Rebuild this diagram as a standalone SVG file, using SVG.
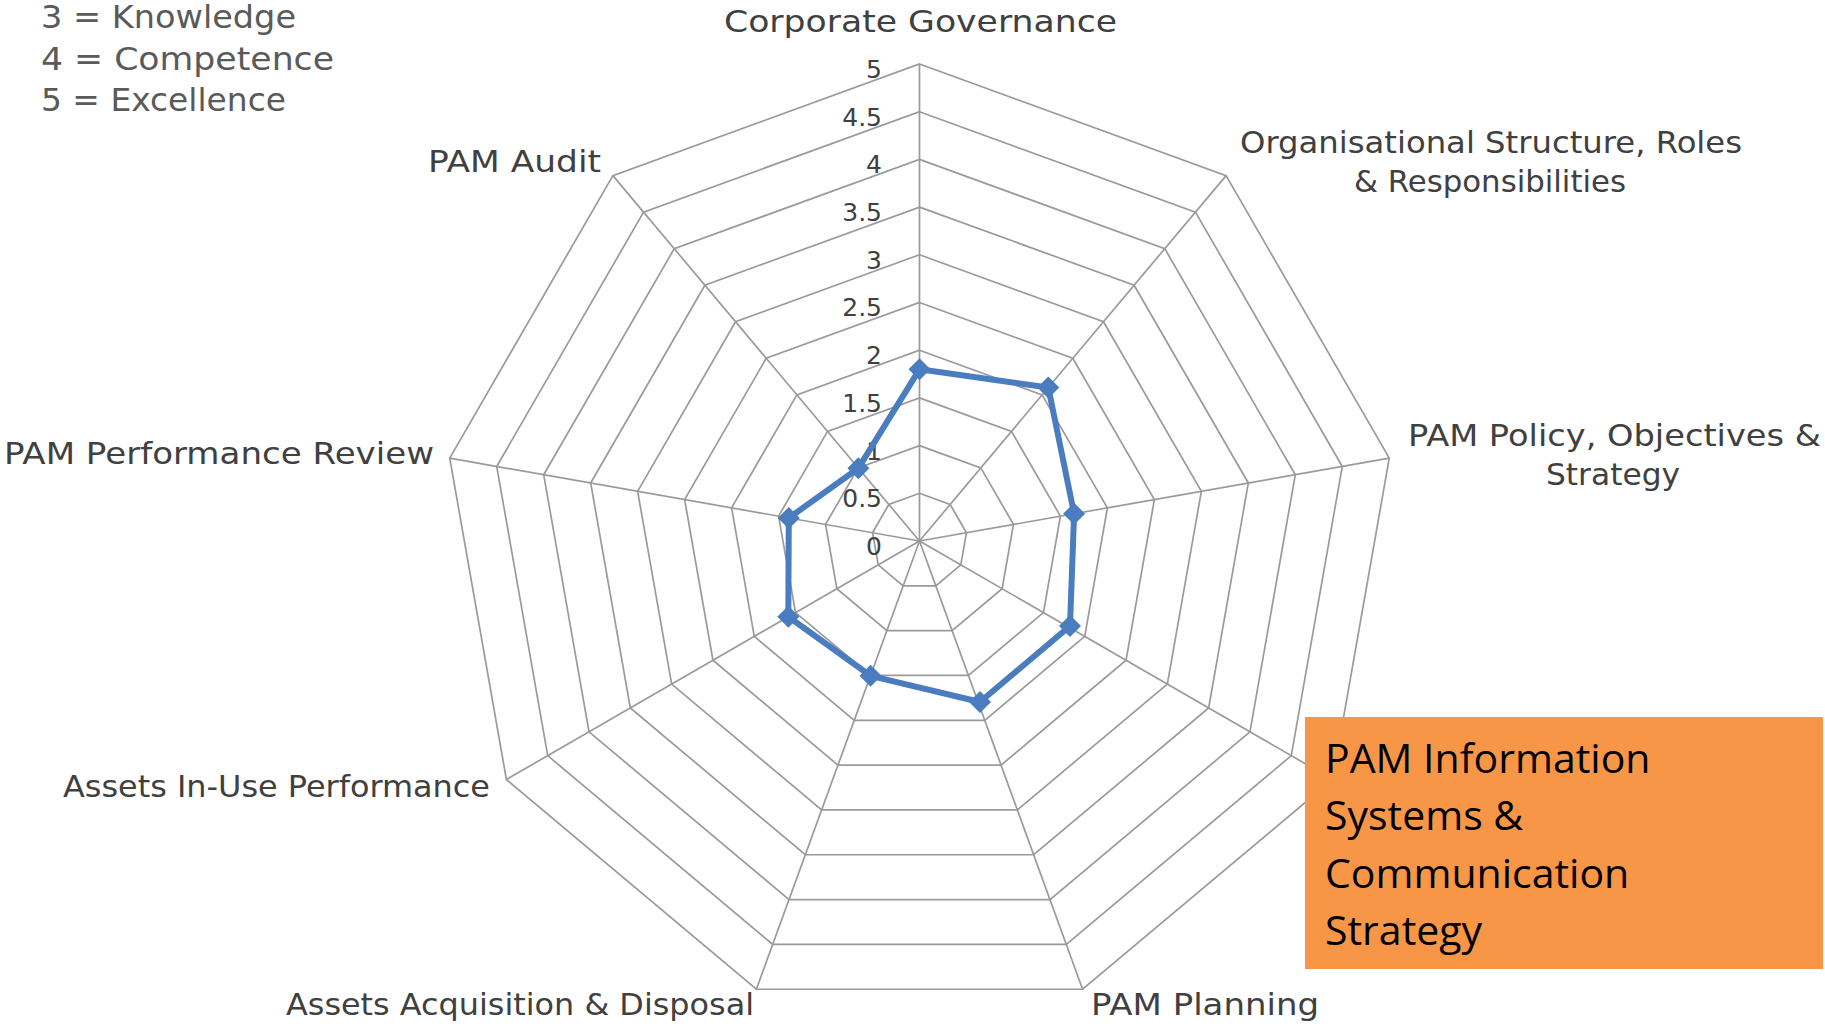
<svg xmlns="http://www.w3.org/2000/svg" width="1825" height="1030" viewBox="0 0 1825 1030">
  <style>
    .ring { fill: none; stroke: #9a9a9a; stroke-width: 1.7; }
    .spoke { stroke: #9a9a9a; stroke-width: 1.7; }
    .lbl { font-family: "DejaVu Sans", "Liberation Sans", sans-serif; font-size: 31px; fill: #404040; }
    .leg { font-family: "DejaVu Sans", "Liberation Sans", sans-serif; font-size: 32px; fill: #5a5a5a; }
    .num { font-family: "DejaVu Sans", "Liberation Sans", sans-serif; font-size: 25px; fill: #404040; text-anchor: end; }
    .series { fill: none; stroke: #4a7dc0; stroke-width: 6; stroke-linejoin: round; }
    .mk { fill: #4a7dc0; }
    .box { fill: #f79646; }
    .boxtxt { font-family: "Open Sans", "Liberation Sans", sans-serif; font-size: 41px; fill: #000000; }
  </style>
  <defs>
    <path id="diamond" d="M0,-11 L11,0 L0,11 L-11,0 Z"/>
  </defs>
  <rect width="1825" height="1030" fill="#ffffff"/>

  <g id="legend">
    <text class="leg" x="41" y="28" textLength="255" lengthAdjust="spacingAndGlyphs">3 = Knowledge</text>
    <text class="leg" x="41" y="70" textLength="293" lengthAdjust="spacingAndGlyphs">4 = Competence</text>
    <text class="leg" x="41" y="111" textLength="245" lengthAdjust="spacingAndGlyphs">5 = Excellence</text>
  </g>

  <g id="grid">
    <polygon class="ring" vector-effect="non-scaling-stroke" transform="translate(919.5 541) scale(47.7)" points="0,-1 0.642788,-0.766044 0.984808,-0.173648 0.866025,0.5 0.342020,0.939693 -0.342020,0.939693 -0.866025,0.5 -0.984808,-0.173648 -0.642788,-0.766044"/>
    <polygon class="ring" vector-effect="non-scaling-stroke" transform="translate(919.5 541) scale(95.4)" points="0,-1 0.642788,-0.766044 0.984808,-0.173648 0.866025,0.5 0.342020,0.939693 -0.342020,0.939693 -0.866025,0.5 -0.984808,-0.173648 -0.642788,-0.766044"/>
    <polygon class="ring" vector-effect="non-scaling-stroke" transform="translate(919.5 541) scale(143.1)" points="0,-1 0.642788,-0.766044 0.984808,-0.173648 0.866025,0.5 0.342020,0.939693 -0.342020,0.939693 -0.866025,0.5 -0.984808,-0.173648 -0.642788,-0.766044"/>
    <polygon class="ring" vector-effect="non-scaling-stroke" transform="translate(919.5 541) scale(190.8)" points="0,-1 0.642788,-0.766044 0.984808,-0.173648 0.866025,0.5 0.342020,0.939693 -0.342020,0.939693 -0.866025,0.5 -0.984808,-0.173648 -0.642788,-0.766044"/>
    <polygon class="ring" vector-effect="non-scaling-stroke" transform="translate(919.5 541) scale(238.5)" points="0,-1 0.642788,-0.766044 0.984808,-0.173648 0.866025,0.5 0.342020,0.939693 -0.342020,0.939693 -0.866025,0.5 -0.984808,-0.173648 -0.642788,-0.766044"/>
    <polygon class="ring" vector-effect="non-scaling-stroke" transform="translate(919.5 541) scale(286.2)" points="0,-1 0.642788,-0.766044 0.984808,-0.173648 0.866025,0.5 0.342020,0.939693 -0.342020,0.939693 -0.866025,0.5 -0.984808,-0.173648 -0.642788,-0.766044"/>
    <polygon class="ring" vector-effect="non-scaling-stroke" transform="translate(919.5 541) scale(333.9)" points="0,-1 0.642788,-0.766044 0.984808,-0.173648 0.866025,0.5 0.342020,0.939693 -0.342020,0.939693 -0.866025,0.5 -0.984808,-0.173648 -0.642788,-0.766044"/>
    <polygon class="ring" vector-effect="non-scaling-stroke" transform="translate(919.5 541) scale(381.6)" points="0,-1 0.642788,-0.766044 0.984808,-0.173648 0.866025,0.5 0.342020,0.939693 -0.342020,0.939693 -0.866025,0.5 -0.984808,-0.173648 -0.642788,-0.766044"/>
    <polygon class="ring" vector-effect="non-scaling-stroke" transform="translate(919.5 541) scale(429.3)" points="0,-1 0.642788,-0.766044 0.984808,-0.173648 0.866025,0.5 0.342020,0.939693 -0.342020,0.939693 -0.866025,0.5 -0.984808,-0.173648 -0.642788,-0.766044"/>
    <polygon class="ring" vector-effect="non-scaling-stroke" transform="translate(919.5 541) scale(477)" points="0,-1 0.642788,-0.766044 0.984808,-0.173648 0.866025,0.5 0.342020,0.939693 -0.342020,0.939693 -0.866025,0.5 -0.984808,-0.173648 -0.642788,-0.766044"/>
  </g>

  <g id="connectors">
    <line class="spoke" x1="919.5" y1="541" x2="919.5" y2="64"/>
    <line class="spoke" x1="919.5" y1="541" x2="1226.1" y2="175.6"/>
    <line class="spoke" x1="919.5" y1="541" x2="1389.3" y2="458.2"/>
    <line class="spoke" x1="919.5" y1="541" x2="1332.6" y2="779.5"/>
    <line class="spoke" x1="919.5" y1="541" x2="1082.6" y2="989.2"/>
    <line class="spoke" x1="919.5" y1="541" x2="756.4" y2="989.2"/>
    <line class="spoke" x1="919.5" y1="541" x2="506.4" y2="779.5"/>
    <line class="spoke" x1="919.5" y1="541" x2="449.7" y2="458.2"/>
    <line class="spoke" x1="919.5" y1="541" x2="612.9" y2="175.6"/>
  </g>

  <g id="scale-labels">
    <text class="num" x="882" y="78">5</text>
    <text class="num" x="882" y="126">4.5</text>
    <text class="num" x="882" y="173">4</text>
    <text class="num" x="882" y="221">3.5</text>
    <text class="num" x="882" y="269">3</text>
    <text class="num" x="882" y="316">2.5</text>
    <text class="num" x="882" y="364">2</text>
    <text class="num" x="882" y="412">1.5</text>
    <text class="num" x="882" y="460">1</text>
    <text class="num" x="882" y="507">0.5</text>
    <text class="num" x="882" y="555">0</text>
  </g>

  <g id="node-corporate-governance">
    <text class="lbl" x="724" y="32" textLength="393" lengthAdjust="spacingAndGlyphs">Corporate Governance</text>
  </g>
  <g id="node-organisational-structure">
    <text class="lbl" x="1240" y="153" textLength="502" lengthAdjust="spacingAndGlyphs">Organisational Structure, Roles</text>
    <text class="lbl" x="1354" y="192" textLength="272" lengthAdjust="spacingAndGlyphs">&amp; Responsibilities</text>
  </g>
  <g id="node-pam-policy">
    <text class="lbl" x="1408" y="446" textLength="413" lengthAdjust="spacingAndGlyphs">PAM Policy, Objectives &amp;</text>
    <text class="lbl" x="1546" y="485" textLength="134" lengthAdjust="spacingAndGlyphs">Strategy</text>
  </g>
  <g id="node-pam-planning">
    <text class="lbl" x="1091" y="1015" textLength="228" lengthAdjust="spacingAndGlyphs">PAM Planning</text>
  </g>
  <g id="node-assets-acquisition">
    <text class="lbl" x="286" y="1015" textLength="468" lengthAdjust="spacingAndGlyphs">Assets Acquisition &amp; Disposal</text>
  </g>
  <g id="node-assets-in-use">
    <text class="lbl" x="63" y="797" textLength="427" lengthAdjust="spacingAndGlyphs">Assets In-Use Performance</text>
  </g>
  <g id="node-pam-performance-review">
    <text class="lbl" x="4" y="464" textLength="430" lengthAdjust="spacingAndGlyphs">PAM Performance Review</text>
  </g>
  <g id="node-pam-audit">
    <text class="lbl" x="428" y="172" textLength="173" lengthAdjust="spacingAndGlyphs">PAM Audit</text>
  </g>

  <g id="series">
    <polygon class="series" points="919.5,369.3 1048.3,387.5 1074.1,513.7 1070,626 980,702 870.5,675.8 788.3,616.8 788.8,518 858.4,468.2"/>
    <use href="#diamond" class="mk" x="919.5" y="369.3"/>
    <use href="#diamond" class="mk" x="1048.3" y="387.5"/>
    <use href="#diamond" class="mk" x="1074.1" y="513.7"/>
    <use href="#diamond" class="mk" x="1070" y="626"/>
    <use href="#diamond" class="mk" x="980" y="702"/>
    <use href="#diamond" class="mk" x="870.5" y="675.8"/>
    <use href="#diamond" class="mk" x="788.3" y="616.8"/>
    <use href="#diamond" class="mk" x="788.8" y="518"/>
    <use href="#diamond" class="mk" x="858.4" y="468.2"/>
  </g>

  <g id="node-pam-information-systems">
    <rect class="box" x="1305" y="717" width="518" height="252"/>
    <text class="boxtxt" x="1325" y="772.5">PAM Information</text>
    <text class="boxtxt" x="1325" y="830">Systems &amp;</text>
    <text class="boxtxt" x="1325" y="887.5">Communication</text>
    <text class="boxtxt" x="1325" y="945">Strategy</text>
  </g>
</svg>
